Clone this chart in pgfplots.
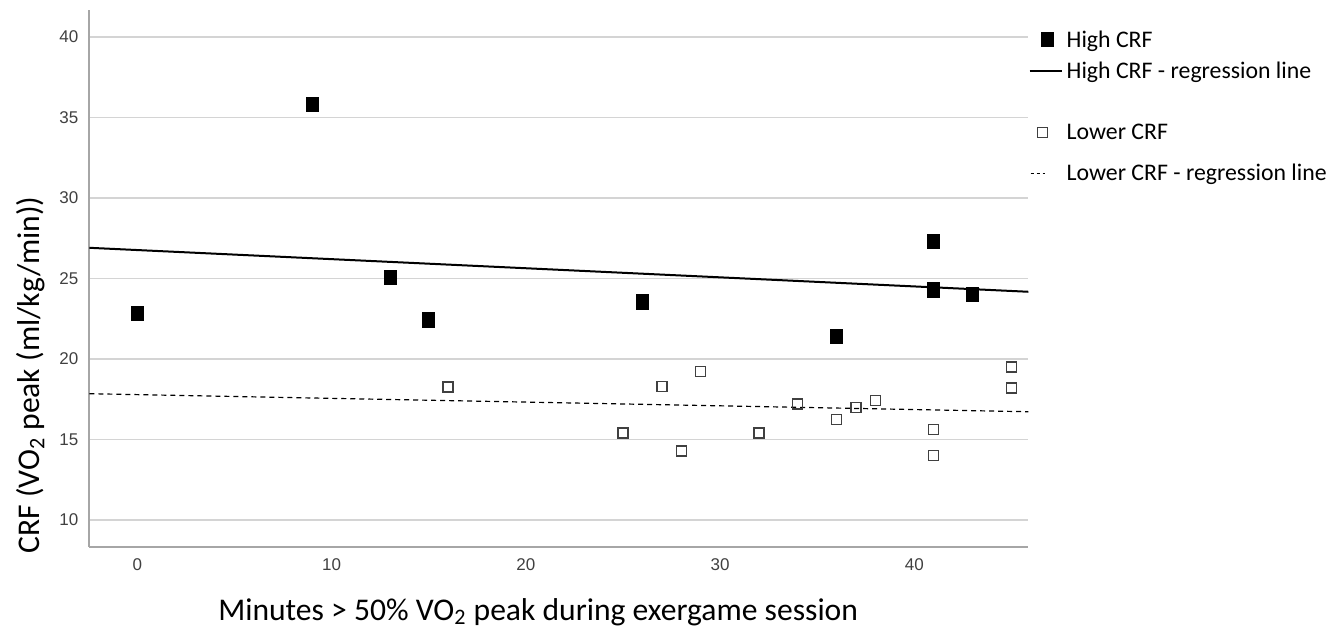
\documentclass[border=0pt]{standalone}
\usepackage{pgfplots}
\pgfplotsset{compat=1.18}
\usepackage{fontspec}
\setmainfont{Carlito}
\newfontfamily\arialfont{Liberation Sans}
\definecolor{gridgray}{HTML}{D4D4D4}
\definecolor{axisgray}{HTML}{A6A6A6}
\definecolor{tickgray}{HTML}{404040}
\definecolor{opengray}{HTML}{404040}
\begin{document}
\begin{tikzpicture}
\begin{axis}[
  at={(0,0)}, anchor=south west,
  scale only axis, width=469.5pt, height=268.3pt,
  xmin=-2.48, xmax=45.87, ymin=8.34, ymax=41.66,
  axis lines*=left,
  axis line style={axisgray, line width=1pt},
  major tick length=0pt,
  xtick={0,10,20,30,40}, ytick={10,15,20,25,30,35,40},
  ymajorgrids, grid style={gridgray, line width=0.8pt},
  /pgf/number format/assume math mode=true,
  ticklabel style={font=\arialfont\fontsize{8.5}{10}\selectfont, text=tickgray},
  xticklabel style={anchor=center, yshift=-8.9pt},
  yticklabel style={anchor=east, xshift=-2pt},
  xlabel={Minutes > 50\% VO\textsubscript{2} peak during exergame session},
  ylabel={CRF (VO\textsubscript{2} peak (ml/kg/min))},
  every axis x label/.style={at={(rel axis cs:0.478,0)}, anchor=base, yshift=-36.7pt, font=\fontsize{15.8}{18}\selectfont},
  every axis y label/.style={at={(rel axis cs:0,0.32)}, anchor=base, rotate=90, yshift=24.7pt, font=\fontsize{15.8}{18}\selectfont},
  legend style={at={(1,1)}, anchor=north west, xshift=-3pt, yshift=-6pt, draw=none, fill=none,
    font=\fontsize{11.9}{14}\selectfont, row sep=2pt, cells={anchor=base west}},
]
\addplot[only marks, mark=square*, mark size=3pt, black, mark options={yscale=1.2, fill=black},
  legend image code/.code={\draw plot coordinates {(9pt,3.8pt)};}]
coordinates {
(0,22.83) (9,35.8) (13,25.07) (15,22.43) (26,23.55) (36,21.41) (41,24.28) (41,27.29) (43,24.01)
};
\addlegendentry{High CRF}
\addplot[black, line width=1pt, forget plot] coordinates {(-2.48,26.9) (45.87,24.17)};
\addlegendimage{legend image code/.code={\draw[black, line width=1pt] (0pt,3.6pt) -- (16pt,3.6pt);}}
\addlegendentry{High CRF - regression line}
\addlegendimage{empty legend}
\addlegendentry[text depth=9.5pt]{}
\addplot[only marks, mark=square, mark size=2.5pt, opengray, mark options={line width=0.7pt, fill=white},
  legend image code/.code={\draw plot coordinates {(6.5pt,3.8pt)};}]
coordinates {
(16,18.26) (25,15.39) (27,18.3) (28,14.29) (29,19.21) (32,15.39) (34,17.2) (36,16.22) (37,16.99) (38,17.4) (41,15.6) (41,14.0) (45,19.5) (45,18.19)
};
\addlegendentry[text depth=6pt]{Lower CRF}
\addplot[black, line width=0.6pt, dash pattern=on 2.5pt off 2pt, forget plot] coordinates {(-2.48,17.84) (45.87,16.72)};
\addlegendimage{legend image code/.code={\draw[black, line width=0.6pt, dash pattern=on 1.5pt off 1.5pt] (0.5pt,3.6pt) -- (7.5pt,3.6pt);}}
\addlegendentry{Lower CRF - regression line}
\end{axis}
\pgfresetboundingbox
\path (-44.65pt,-43.15pt) rectangle (620.35pt,273.35pt);
\end{tikzpicture}
\end{document}
